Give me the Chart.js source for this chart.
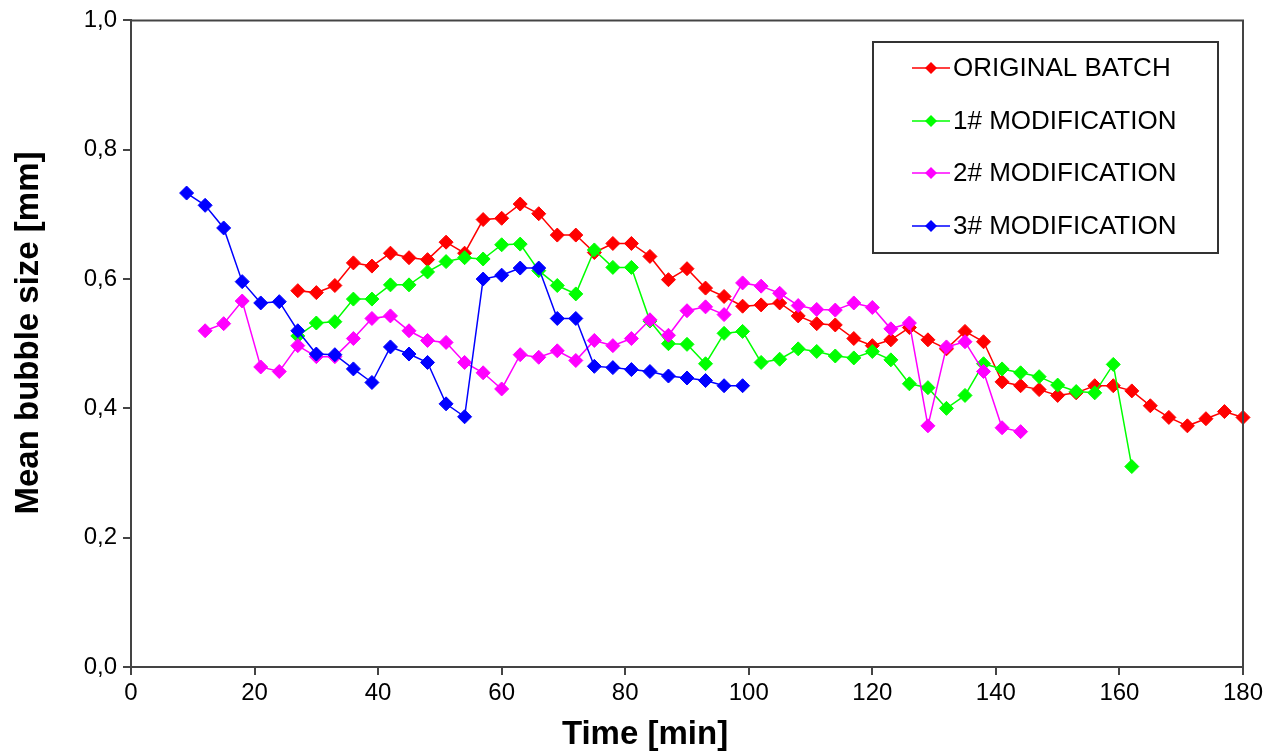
<!DOCTYPE html>
<html>
<head>
<meta charset="utf-8">
<script src="https://cdn.jsdelivr.net/npm/chart.js@4/dist/chart.umd.min.js"></script>
<style>
  html, body { margin: 0; padding: 0; background: #fff; }
  #wrap { width: 1285px; height: 754px; position: relative; }
</style>
</head>
<body>
<div id="wrap"><canvas id="c" width="1285" height="754"></canvas></div>
<script>
// ---- Data ----
const seriesNames = ["ORIGINAL BATCH", "1# MODIFICATION", "2# MODIFICATION", "3# MODIFICATION"];

const timeOriginal = [27,30,33,36,39,42,45,48,51,54,57,60,63,66,69,72,75,78,81,84,87,90,93,96,99,102,105,108,111,114,117,120,123,126,129,132,135,138,141,144,147,150,153,156,159,162,165,168,171,174,177,180];
const sizeOriginal = [0.582,0.579,0.590,0.625,0.620,0.640,0.633,0.630,0.657,0.640,0.692,0.694,0.716,0.701,0.668,0.668,0.641,0.655,0.655,0.635,0.599,0.616,0.586,0.573,0.558,0.560,0.563,0.543,0.531,0.529,0.508,0.497,0.506,0.525,0.506,0.492,0.519,0.503,0.441,0.435,0.429,0.420,0.424,0.435,0.435,0.427,0.404,0.386,0.373,0.384,0.395,0.386];

const timeMod1 = [27,30,33,36,39,42,45,48,51,54,57,60,63,66,69,72,75,78,81,84,87,90,93,96,99,102,105,108,111,114,117,120,123,126,129,132,135,138,141,144,147,150,153,156,159,162];
const sizeMod1 = [0.512,0.532,0.534,0.569,0.569,0.591,0.591,0.611,0.627,0.633,0.631,0.653,0.654,0.613,0.590,0.577,0.645,0.618,0.618,0.535,0.500,0.499,0.469,0.516,0.519,0.471,0.476,0.492,0.488,0.481,0.478,0.488,0.475,0.438,0.432,0.400,0.420,0.469,0.461,0.455,0.449,0.436,0.426,0.424,0.468,0.310];

const timeMod2 = [12,15,18,21,24,27,30,33,36,39,42,45,48,51,54,57,60,63,66,69,72,75,78,81,84,87,90,93,96,99,102,105,108,111,114,117,120,123,126,129,132,135,138,141,144];
const sizeMod2 = [0.520,0.531,0.566,0.464,0.457,0.497,0.480,0.480,0.508,0.539,0.543,0.520,0.505,0.502,0.471,0.455,0.430,0.483,0.479,0.489,0.474,0.505,0.497,0.508,0.537,0.513,0.551,0.557,0.545,0.594,0.589,0.578,0.559,0.553,0.552,0.563,0.556,0.523,0.532,0.373,0.495,0.503,0.457,0.370,0.364];

const timeMod3 = [9,12,15,18,21,24,27,30,33,36,39,42,45,48,51,54,57,60,63,66,69,72,75,78,81,84,87,90,93,96,99];
const sizeMod3 = [0.733,0.714,0.679,0.596,0.563,0.565,0.520,0.484,0.483,0.461,0.440,0.495,0.484,0.471,0.407,0.387,0.600,0.606,0.617,0.617,0.539,0.539,0.465,0.463,0.460,0.457,0.450,0.447,0.443,0.435,0.435];

const xTicks = [0,20,40,60,80,100,120,140,160,180];
const yTicks = [0.0,0.2,0.4,0.6,0.8,1.0];
const xTitle = "Time [min]";
const yTitle = "Mean bubble size [mm]";

// ---- Styles ----
const colors = ["#ff0000", "#00ff00", "#ff00ff", "#0000ff"];
const FONT = "'Liberation Sans', Arial, sans-serif";
const AXIS = "#444444";

function pts(t, v) { return t.map((x, i) => ({ x: x, y: v[i] })); }

const dataSets = [
  [timeOriginal, sizeOriginal],
  [timeMod1, sizeMod1],
  [timeMod2, sizeMod2],
  [timeMod3, sizeMod3]
].map((d, i) => ({
  label: seriesNames[i],
  data: pts(d[0], d[1]),
  borderColor: colors[i],
  backgroundColor: colors[i],
  borderWidth: 1.5,
  pointStyle: 'rectRot',
  pointRadius: 7,
  pointHoverRadius: 7,
  pointBorderWidth: 1,
  tension: 0,
  clip: false,
  order: 3 - i
}));

const decor = {
  id: 'decor',
  afterDraw(chart) {
    const ctx = chart.ctx;
    const a = chart.chartArea;
    ctx.save();
    // top + right frame
    ctx.strokeStyle = AXIS;
    ctx.lineWidth = 2;
    ctx.beginPath();
    ctx.moveTo(a.left, a.top);
    ctx.lineTo(a.right, a.top);
    ctx.lineTo(a.right, a.bottom);
    ctx.stroke();

    // axis titles
    ctx.fillStyle = '#000';
    ctx.font = "bold 33px " + FONT;
    ctx.textAlign = 'center';
    ctx.textBaseline = 'alphabetic';
    ctx.fillText(xTitle, 645, 744);
    ctx.save();
    ctx.translate(38, 333);
    ctx.rotate(-Math.PI / 2);
    ctx.font = "bold 33px " + FONT;
    ctx.fillText(yTitle, 0, 0);
    ctx.restore();

    // legend
    const bx = 873, by = 42, bw = 345, bh = 211;
    ctx.fillStyle = '#fff';
    ctx.fillRect(bx, by, bw, bh);
    ctx.strokeStyle = '#333';
    ctx.lineWidth = 2;
    ctx.strokeRect(bx, by, bw, bh);
    const rows = [68, 121, 173, 226];
    ctx.font = "26px " + FONT;
    ctx.textAlign = 'left';
    ctx.textBaseline = 'middle';
    seriesNames.forEach((n, i) => {
      const y = rows[i];
      ctx.strokeStyle = colors[i];
      ctx.lineWidth = 1.5;
      ctx.beginPath();
      ctx.moveTo(912, y);
      ctx.lineTo(950, y);
      ctx.stroke();
      ctx.fillStyle = colors[i];
      ctx.beginPath();
      const r = 6;
      ctx.moveTo(931, y - r);
      ctx.lineTo(931 + r, y);
      ctx.lineTo(931, y + r);
      ctx.lineTo(931 - r, y);
      ctx.closePath();
      ctx.fill();
      ctx.fillStyle = '#000';
      ctx.fillText(n, 953, y + 1);
    });
    ctx.restore();
  }
};

new Chart(document.getElementById('c'), {
  type: 'line',
  data: { datasets: dataSets },
  options: {
    responsive: false,
    animation: false,
    events: [],
    layout: { padding: { top: 19, right: 42, left: 0, bottom: 0 } },
    plugins: { legend: { display: false }, tooltip: { enabled: false } },
    scales: {
      x: {
        type: 'linear',
        min: 0, max: 180,
        afterFit(s) { s.height = 87; },
        afterBuildTicks(s) { s.ticks = xTicks.map(v => ({ value: v })); },
        ticks: { color: '#000', font: { family: FONT, size: 24 }, padding: 4, maxRotation: 0, autoSkip: false,
                 callback: v => String(v) },
        grid: { drawOnChartArea: false, drawTicks: true, tickLength: 8, color: AXIS, lineWidth: 2 },
        border: { display: true, color: AXIS, width: 2 }
      },
      y: {
        type: 'linear',
        min: 0, max: 1,
        afterFit(s) { s.width = 131; },
        afterBuildTicks(s) { s.ticks = yTicks.map(v => ({ value: v })); },
        ticks: { color: '#000', font: { family: FONT, size: 24 }, padding: 6, autoSkip: false,
                 callback: v => Number(v).toFixed(1).replace('.', ',') },
        grid: { drawOnChartArea: false, drawTicks: true, tickLength: 8, color: AXIS, lineWidth: 2 },
        border: { display: true, color: AXIS, width: 2 }
      }
    }
  },
  plugins: [decor]
});
</script>
</body>
</html>
